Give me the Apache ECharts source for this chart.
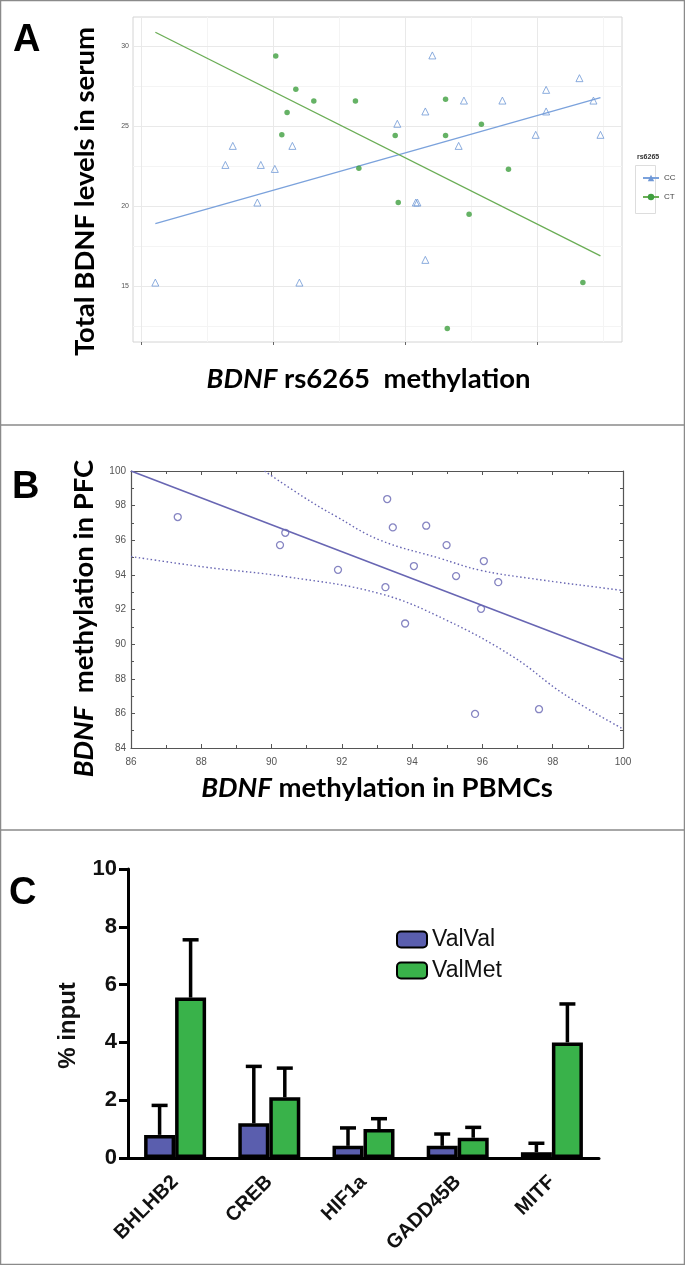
<!DOCTYPE html>
<html><head><meta charset="utf-8">
<script src="https://cdn.jsdelivr.net/npm/echarts@6/dist/echarts.min.js"></script>
<style>html,body{margin:0;padding:0;background:#fff}#c{width:685px;height:1265px}</style>
</head><body><div id="c"></div>
<script>
// ---------- Panel A data (x in axis-tick units; x tick labels are not shown in the source) ----------
const ccX = [0.109,0.639,0.695,0.881,0.907,1.013,1.146,1.199,1.940,2.080,2.092,2.152,2.152,2.205,2.404,2.444,2.735,2.987,3.066,3.066,3.318,3.424,3.477];
const ccY = [15.21,22.56,23.75,20.21,22.56,22.31,23.75,15.21,25.13,20.21,20.21,25.90,16.63,29.40,23.75,26.58,26.58,24.44,27.25,25.90,27.98,26.58,24.44];
const ctX = [1.020,1.172,1.106,1.066,1.308,1.623,1.649,1.924,1.947,2.305,2.305,2.318,2.483,2.576,2.781,3.344];
const ctY = [29.37,27.29,25.83,24.44,26.56,26.56,22.35,24.40,20.21,26.67,24.40,12.35,19.48,25.10,22.29,15.21];
const ccFitX = [0.109, 3.477], ccFitY = [18.90, 26.77];
const ctFitX = [0.109, 3.477], ctFitY = [30.85, 16.88];
const aXTicks = [0, 1, 2, 3], aXMinor = [0.5, 1.5, 2.5, 3.5];
const aYTicks = [15, 20, 25, 30], aYMinor = [12.5, 17.5, 22.5, 27.5];
const aGroups = ['CC', 'CT'];

// ---------- Panel B data ----------
const bX = [87.33,90.24,90.39,91.89,93.24,93.29,93.45,93.80,94.05,94.40,94.98,95.25,95.79,95.96,96.04,96.45,97.61];
const bY = [97.34,95.72,96.43,94.29,93.29,98.38,96.74,91.19,94.51,96.84,95.72,93.93,85.97,92.04,94.80,93.58,86.24];
const bFitX = [86, 100], bFitY = [100, 89.13];
const bUpX = [89.80,90.90,91.85,93.08,94.80,95.93,97.35,99.91,100];
const bUpY = [100.0,98.51,97.36,96.01,94.95,94.27,93.80,93.12,93.10];
const bLoX = [86.0,88.06,90.43,93.08,94.98,96.88,98.30,100];
const bLoY = [95.06,94.46,93.89,92.92,91.38,89.26,87.14,85.10];

// ---------- Panel C data ----------
const cCats = ['BHLHB2', 'CREB', 'HIF1a', 'GADD45B', 'MITF'];
const valVal = [0.80, 1.20, 0.42, 0.42, 0.20];
const valValErr = [1.02, 1.97, 0.62, 0.41, 0.31];
const valMet = [5.55, 2.10, 1.00, 0.70, 4.00];
const valMetErr = [2.00, 1.01, 0.36, 0.36, 1.33];

// ---------- styling ----------
const BAR_W = 31;
const blueA = '#6f98d6', greenA = '#3f9f3f';
const purple = '#6866b3';
const zip = (a, b) => a.map((v, i) => [v, b[i]]);

const chart = echarts.init(document.getElementById('c'), null, {renderer: 'canvas'});

function gridML(xs, ys, color) {
  return xs.map(v => ({xAxis: v, lineStyle: {color: color, width: 1, type: 'solid'}}))
    .concat(ys.map(v => ({yAxis: v, lineStyle: {color: color, width: 1, type: 'solid'}})));
}

function errItem(offsetSign) {
  return function (params, api) {
    const i = api.value(0), v = api.value(1), e = api.value(2);
    const p0 = api.coord([i, v]);
    const p1 = api.coord([i, v + e]);
    const x = p0[0] + offsetSign * BAR_W / 2;
    return {
      type: 'group',
      children: [
        {type: 'line', shape: {x1: x, y1: p0[1], x2: x, y2: p1[1]}, style: {stroke: '#000', lineWidth: 3.5}},
        {type: 'line', shape: {x1: x - 8, y1: p1[1], x2: x + 8, y2: p1[1]}, style: {stroke: '#000', lineWidth: 3.5}}
      ]
    };
  };
}

const titleFont = {fontSize: 38, fontWeight: 'bold', fontFamily: 'Liberation Sans', color: '#000'};
function bigName(pad) {
  return {fontFamily: 'Lato', fontSize: 27.5, fontWeight: 'bold', color: '#000', padding: pad,
    rich: {i: {fontFamily: 'Lato', fontSize: 27.5, fontWeight: 'bold', fontStyle: 'italic', color: '#000'},
           n: {fontFamily: 'Lato', fontSize: 27.5, fontWeight: 'bold', color: '#000'}}};
}
const bTick = {fontSize: 10, color: '#555', fontFamily: 'Liberation Sans Narrow, Liberation Sans'};

const option = {
  animation: false,
  backgroundColor: '#fff',
  title: [
    {text: 'A', left: 8, top: 17, textStyle: titleFont},
    {text: 'B', left: 7, top: 464, textStyle: titleFont},
    {text: 'C', left: 4, top: 870, textStyle: titleFont}
  ],
  grid: [
    {left: 133, top: 17, width: 489, height: 325, show: true, borderColor: '#d4d4d4', borderWidth: 1, backgroundColor: '#fff'},
    {left: 131, top: 471, width: 492, height: 277},
    {left: 128, top: 869, width: 471, height: 289}
  ],
  legend: [
    {data: aGroups, orient: 'vertical', left: 637, top: 169, itemWidth: 16, itemHeight: 8, itemGap: 11,
     selectedMode: false, textStyle: {fontSize: 8, color: '#444', fontFamily: 'Liberation Sans'}},
    {data: ['ValVal', 'ValMet'], orient: 'vertical', left: 396, top: 928, padding: 0, itemWidth: 30, itemHeight: 16, itemGap: 8,
     icon: 'roundRect', selectedMode: false, textStyle: {fontSize: 23, color: '#111', fontFamily: 'Liberation Sans'}}
  ],
  xAxis: [
    {gridIndex: 0, type: 'value', min: -0.06, max: 3.64,
     axisLine: {show: false}, splitLine: {show: false},
     axisTick: {show: true, customValues: aXTicks, length: 3, lineStyle: {color: '#666'}},
     axisLabel: {show: false},
     name: '{i|BDNF}{n| rs6265  methylation}', nameLocation: 'middle', nameGap: 23, nameTextStyle: bigName([0, 18, 0, 0])},
    {gridIndex: 1, type: 'value', min: 86, max: 100, interval: 2,
     axisLine: {onZero: false, lineStyle: {color: '#555', width: 1.2}},
     axisTick: {inside: true, length: 4, lineStyle: {color: '#555'}},
     minorTick: {show: true, splitNumber: 2, length: 3, lineStyle: {color: '#555'}},
     axisLabel: Object.assign({margin: 9}, bTick), splitLine: {show: false},
     name: '{i|BDNF}{n| methylation in PBMCs}', nameLocation: 'middle', nameGap: 26, nameTextStyle: bigName([0, 0, 0, 0])},
    {gridIndex: 1, type: 'value', min: 86, max: 100, interval: 2, position: 'top',
     axisLine: {onZero: false, lineStyle: {color: '#555', width: 1.2}},
     axisTick: {inside: true, length: 4, lineStyle: {color: '#555'}},
     minorTick: {show: true, splitNumber: 2, length: 3, lineStyle: {color: '#555'}},
     axisLabel: {show: false}, splitLine: {show: false}},
    {gridIndex: 2, type: 'category', data: cCats, boundaryGap: true,
     axisLine: {lineStyle: {color: '#000', width: 3}},
     axisTick: {alignWithLabel: true, length: 9, lineStyle: {color: '#000', width: 3}},
     axisLabel: {rotate: 45, margin: 21, fontSize: 20, fontWeight: 'bold', color: '#111', fontFamily: 'Liberation Sans'}}
  ],
  yAxis: [
    {gridIndex: 0, type: 'value', min: 11.5, max: 31.8,
     axisLine: {show: false}, splitLine: {show: false},
     axisTick: {show: true, customValues: aYTicks, length: 3, lineStyle: {color: '#666'}},
     axisLabel: {customValues: aYTicks, fontSize: 7, color: '#555', margin: 4, fontFamily: 'Liberation Sans'},
     name: 'Total BDNF levels in serum', nameLocation: 'middle', nameRotate: 90, nameGap: 34, nameTextStyle: bigName([0, 0, 0, -24])},
    {gridIndex: 1, type: 'value', min: 84, max: 100, interval: 2,
     axisLine: {show: true, onZero: false, lineStyle: {color: '#555', width: 1.2}},
     axisTick: {show: true, inside: true, length: 4, lineStyle: {color: '#555'}},
     minorTick: {show: true, splitNumber: 2, length: 3, lineStyle: {color: '#555'}},
     axisLabel: Object.assign({margin: 5}, bTick), splitLine: {show: false},
     name: '{i|BDNF}{n|  methylation in PFC}', nameLocation: 'middle', nameRotate: 90, nameGap: 33, nameTextStyle: bigName([0, 0, 0, -18])},
    {gridIndex: 1, type: 'value', min: 84, max: 100, interval: 2, position: 'right',
     axisLine: {show: true, onZero: false, lineStyle: {color: '#555', width: 1.2}},
     axisTick: {show: true, inside: true, length: 4, lineStyle: {color: '#555'}},
     minorTick: {show: true, splitNumber: 2, length: 3, lineStyle: {color: '#555'}},
     axisLabel: {show: false}, splitLine: {show: false}},
    {gridIndex: 2, type: 'value', min: 0, max: 10, interval: 2,
     axisLine: {show: true, lineStyle: {color: '#000', width: 3}},
     axisTick: {show: true, length: 9, lineStyle: {color: '#000', width: 3}},
     axisLabel: {margin: 11, fontSize: 22, fontWeight: 'bold', color: '#111', fontFamily: 'Liberation Sans'},
     splitLine: {show: false},
     name: '{b|% input}', nameLocation: 'middle', nameRotate: 90, nameGap: 48,
     nameTextStyle: {fontSize: 24, fontWeight: 'bold', color: '#111', fontFamily: 'Liberation Sans', padding: [0, 0, 0, -24],
       rich: {b: {fontSize: 24, fontWeight: 'bold', color: '#111', fontFamily: 'Liberation Sans'}}}}
  ],
  series: [
    // Panel A
    {type: 'line', name: 'CC', xAxisIndex: 0, yAxisIndex: 0, data: zip(ccFitX, ccFitY),
     symbol: 'triangle', symbolSize: 6, showSymbol: false, z: 3,
     lineStyle: {color: '#7ba2dc', width: 1.3}, itemStyle: {color: blueA},
     markLine: {silent: true, symbol: 'none', z: 1, animation: false, label: {show: false},
       data: gridML(aXMinor, aYMinor, '#f4f4f4').concat(gridML(aXTicks, aYTicks, '#e9e9e9'))}},
    {type: 'line', name: 'CT', xAxisIndex: 0, yAxisIndex: 0, data: zip(ctFitX, ctFitY),
     symbol: 'circle', symbolSize: 5, showSymbol: false, z: 3,
     lineStyle: {color: '#6aad55', width: 1.3}, itemStyle: {color: greenA}},
    {type: 'scatter', name: 'CC', xAxisIndex: 0, yAxisIndex: 0, data: zip(ccX, ccY),
     symbol: 'triangle', symbolSize: 7, z: 4,
     itemStyle: {color: 'rgba(255,255,255,0)', borderColor: blueA, borderWidth: 1}},
    {type: 'scatter', name: 'CT', xAxisIndex: 0, yAxisIndex: 0, data: zip(ctX, ctY),
     symbol: 'circle', symbolSize: 5.5, z: 4, itemStyle: {color: greenA}},
    // Panel B
    {type: 'line', name: 'fit', xAxisIndex: 1, yAxisIndex: 1, data: zip(bFitX, bFitY),
     showSymbol: false, symbol: 'none', lineStyle: {color: purple, width: 1.6}},
    {type: 'line', name: 'upper95', xAxisIndex: 1, yAxisIndex: 1, data: zip(bUpX, bUpY),
     showSymbol: false, symbol: 'none', smooth: 0.4, lineStyle: {color: purple, width: 1.4, type: [1.5, 2.5]}},
    {type: 'line', name: 'lower95', xAxisIndex: 1, yAxisIndex: 1, data: zip(bLoX, bLoY),
     showSymbol: false, symbol: 'none', smooth: 0.4, lineStyle: {color: purple, width: 1.4, type: [1.5, 2.5]}},
    {type: 'scatter', name: 'pts', xAxisIndex: 1, yAxisIndex: 1, data: zip(bX, bY),
     symbol: 'circle', symbolSize: 7, itemStyle: {color: 'rgba(255,255,255,0)', borderColor: purple, borderWidth: 1.3}},
    // Panel C
    {type: 'bar', name: 'ValVal', xAxisIndex: 3, yAxisIndex: 3, data: valVal, barWidth: BAR_W, barGap: '0%',
     itemStyle: {color: '#5a5eae', borderColor: '#000', borderWidth: 3.5}},
    {type: 'bar', name: 'ValMet', xAxisIndex: 3, yAxisIndex: 3, data: valMet, barWidth: BAR_W, barGap: '0%',
     itemStyle: {color: '#39b24a', borderColor: '#000', borderWidth: 3.5}},
    {type: 'custom', name: 'ValVal err', xAxisIndex: 3, yAxisIndex: 3, z: 1,
     data: cCats.map((c, i) => [i, valVal[i], valValErr[i]]), renderItem: errItem(-1)},
    {type: 'custom', name: 'ValMet err', xAxisIndex: 3, yAxisIndex: 3, z: 1,
     data: cCats.map((c, i) => [i, valMet[i], valMetErr[i]]), renderItem: errItem(1)}
  ],
  graphic: [
    {type: 'rect', shape: {x: 0.5, y: 0.5, width: 684, height: 1264}, style: {fill: 'none', stroke: '#8a8a8a', lineWidth: 1.5}, silent: true},
    {type: 'line', shape: {x1: 0, y1: 425, x2: 685, y2: 425}, style: {stroke: '#8a8a8a', lineWidth: 1.5}, silent: true},
    {type: 'line', shape: {x1: 0, y1: 830, x2: 685, y2: 830}, style: {stroke: '#8a8a8a', lineWidth: 1.5}, silent: true},
    {type: 'text', left: 637, top: 154, style: {text: 'rs6265', fontSize: 7, fontWeight: 'bold', fill: '#333', fontFamily: 'Liberation Sans'}, silent: true},
    {type: 'rect', shape: {x: 635.5, y: 165.5, width: 20, height: 48}, style: {fill: 'none', stroke: '#dddddd', lineWidth: 1}, silent: true}
  ]
};
chart.setOption(option);
</script>
</body></html>
